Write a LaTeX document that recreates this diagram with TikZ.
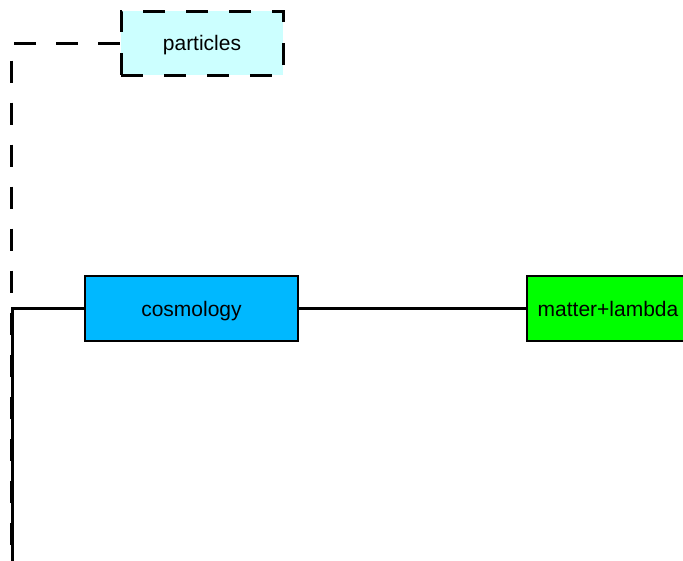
\documentclass[tikz,border=0pt]{standalone}
\usepackage{fontspec}
\setmainfont{Liberation Sans}
\definecolor{partfill}{RGB}{204,255,255}
\definecolor{cosmofill}{RGB}{0,184,255}
\definecolor{matterfill}{RGB}{0,255,0}
\begin{document}
\begin{tikzpicture}[x=1pt,y=-1pt,
  box/.style={draw=black, rectangle, inner sep=0pt, line width=2.4pt,
    text height=15pt, text depth=0pt,
    font=\fontsize{21}{25}\selectfont},
  dashbox/.style={box, line width=3pt, dash pattern=on 22pt off 21pt},
  dashlink/.style={line width=3pt, dash pattern=on 22pt off 20pt},
  thinlink/.style={line width=2.2pt},
  thicklink/.style={line width=3.4pt}]
\useasboundingbox (0,0) rectangle (683,560);
\clip (0,0) rectangle (683,560);

\node[dashbox, fill=partfill, minimum width=162pt, minimum height=64pt]
  (particles) at (202,43) {particles};
\node[box, fill=cosmofill, minimum width=213pt, minimum height=65pt]
  (cosmology) at (191.5,308.5) {cosmology};
\node[box, fill=matterfill, minimum width=162pt, minimum height=65pt]
  (matter) at (608,308.5) {matter+lambda};

\coordinate (dcorner) at (11,43);
\coordinate (dbottom) at (11,575);
\coordinate (tjoint) at (12.5,308.5);
\coordinate (tbottom) at (12.5,575);

% solid branch from below up to the cosmology box
\draw[thinlink] (tbottom) -- (tjoint) -- (cosmology.west);
% dashed branch to the particles box
\draw[dashlink] (particles.west) -- (dcorner) -- (dbottom);
% link between cosmology and matter+lambda
\draw[thicklink] (cosmology.east) -- (matter.west);
\end{tikzpicture}
\end{document}
